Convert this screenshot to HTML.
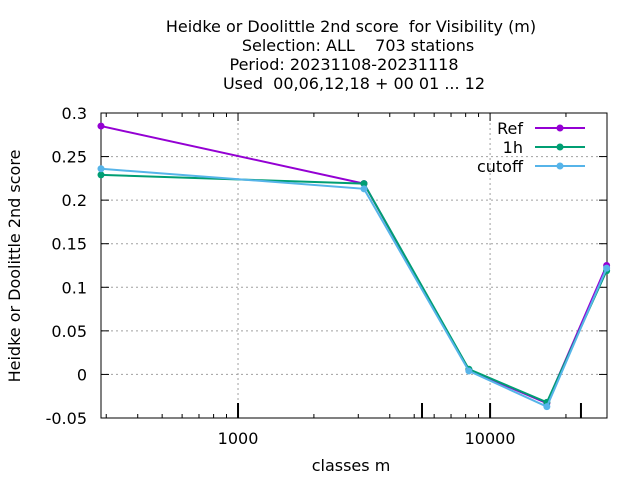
<!DOCTYPE html>
<html><head><meta charset="utf-8"><style>
body{margin:0;background:#fff}
svg{display:block;font-family:"DejaVu Sans","Liberation Sans",sans-serif}
text{white-space:pre}
</style></head><body>
<svg id="c" width="640" height="480" xmlns="http://www.w3.org/2000/svg" xml:space="preserve">
<g font-size="16" text-anchor="middle" fill="#000">
<text x="351" y="32">Heidke or Doolittle 2nd score  for Visibility (m)</text>
<text x="358" y="51">Selection: ALL    703 stations</text>
<text x="344" y="70">Period: 20231108-20231118</text>
<text x="354" y="89">Used  00,06,12,18 + 00 01 ... 12</text>
</g>
<text transform="translate(20,266) rotate(-90)" font-size="16" text-anchor="middle">Heidke or Doolittle 2nd score</text>
<text x="351" y="471" font-size="16" text-anchor="middle">classes m</text>
<g id="grid"></g><g id="axes"></g><g id="series"></g><g id="legend"></g>
</svg>
<script>
const xs=[286,3160,8240,16800,29000];
const seriesNames=["Ref","1h","cutoff"];
const refVals=[0.285,0.219,0.005,-0.033,0.125];
const h1Vals=[0.229,0.219,0.006,-0.032,0.119];
const cutVals=[0.236,0.213,0.004,-0.037,0.122];
const yTicks=[-0.05,0,0.05,0.1,0.15,0.2,0.25,0.3];
const yLabels=["-0.05","0","0.05","0.1","0.15","0.2","0.25","0.3"];
const xMajor=[1000,10000];
const xLabels=["1000","10000"];
const xExtra=[5370,22940];
const colors=["#9400d3","#009e73","#56b4e9"];
const L=101,R=607,T=113,B=418,xmin=286,xmax=29100,ymin=-0.05,ymax=0.3;
const NS="http://www.w3.org/2000/svg";
function X(v){return L+(Math.log10(v)-Math.log10(xmin))/(Math.log10(xmax)-Math.log10(xmin))*(R-L);}
function Y(v){return B-(v-ymin)/(ymax-ymin)*(B-T);}
function mk(t,a,p){const e=document.createElementNS(NS,t);for(const k in a)e.setAttribute(k,a[k]);p.appendChild(e);return e;}
const grid=document.getElementById('grid'),axes=document.getElementById('axes'),ser=document.getElementById('series'),leg=document.getElementById('legend');
yTicks.forEach((v,i)=>{
 const y=Y(v);
 if(i>0&&i<yTicks.length-1){const g=mk('line',{x1:L,x2:R,y1:y,y2:y,stroke:'#a0a0a0','stroke-dasharray':'2,3','stroke-width':1},grid);
 
 }
 mk('line',{x1:L,x2:L+8,y1:y,y2:y,stroke:'#000'},axes);
 mk('line',{x1:R,x2:R-8,y1:y,y2:y,stroke:'#000'},axes);
 const t=mk('text',{x:L-14,y:y+6,'font-size':16,'text-anchor':'end'},axes);t.textContent=yLabels[i];
 
 
});
for(let d=100;d<=10000;d*=10)for(let m=1;m<10;m++){const v=d*m;if(v<xmin||v>xmax)continue;const x=X(v);const len=(m==1)?8:4;
 mk('line',{x1:x,x2:x,y1:B,y2:B-len,stroke:'#000'},axes);mk('line',{x1:x,x2:x,y1:T,y2:T+len,stroke:'#000'},axes);}
xMajor.forEach((v,i)=>{const x=X(v);
 const g=mk('line',{x1:x,x2:x,y1:T,y2:B,stroke:'#a0a0a0','stroke-dasharray':'2,3'},grid);
 
 
 mk('line',{x1:x,x2:x,y1:B,y2:B-15,stroke:'#000','stroke-width':2},axes);
 const t=mk('text',{x:x,y:B+26,'font-size':16,'text-anchor':'middle'},axes);t.textContent=xLabels[i];
 
 });
xExtra.forEach(v=>{const x=X(v);mk('line',{x1:x,x2:x,y1:B,y2:B-15,stroke:'#000','stroke-width':2},axes);});
const fr=mk('rect',{x:L,y:T,width:R-L,height:B-T,fill:'none',stroke:'#000'},axes);


[refVals,h1Vals,cutVals].forEach((vals,s)=>{
 const g=mk('g',{},ser);
 
 
 mk('polyline',{points:vals.map((v,i)=>X(xs[i])+','+Y(v)).join(' '),fill:'none',stroke:colors[s],'stroke-width':2},g);
 vals.forEach((v,i)=>{const p=mk('circle',{cx:X(xs[i]),cy:Y(v),r:3.5,fill:colors[s]},g);
 
 });
 const ly=128+s*19;
 const le=mk('g',{},leg);
 
 
 const t=mk('text',{x:523,y:ly+6,'font-size':16,'text-anchor':'end'},le);t.textContent=seriesNames[s];
 mk('line',{x1:535,x2:585,y1:ly,y2:ly,stroke:colors[s],'stroke-width':2},le);
 mk('circle',{cx:560,cy:ly,r:3.5,fill:colors[s]},le);
});
</script>
</body></html>
